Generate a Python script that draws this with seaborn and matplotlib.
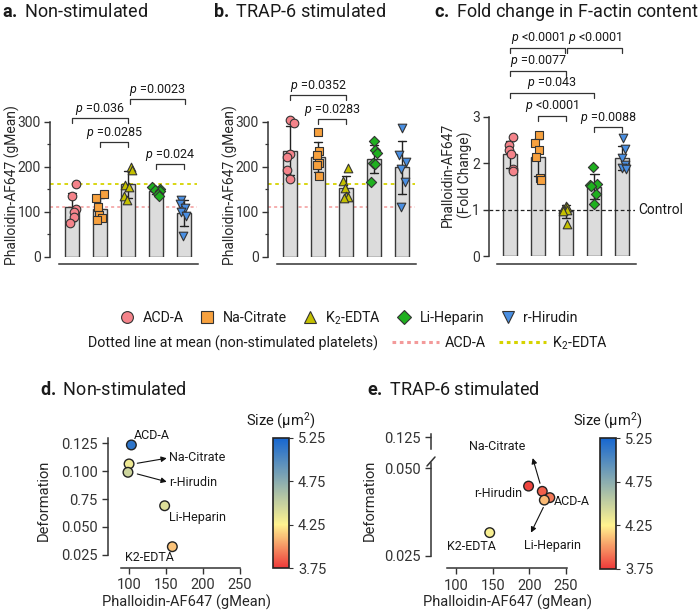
import numpy as np
import pandas as pd
import matplotlib
matplotlib.use("Agg")
import matplotlib.pyplot as plt
import seaborn as sns
from matplotlib.lines import Line2D
from matplotlib.colors import LinearSegmentedColormap, Normalize
from matplotlib.cm import ScalarMappable

# ---------------- data ----------------
categories = ["ACD-A", "Na-Citrate", "K2-EDTA", "Li-Heparin", "r-Hirudin"]
legend_labels = ["ACD-A", "Na-Citrate", "K$_2$-EDTA", "Li-Heparin", "r-Hirudin"]
colors = ["#F4838A", "#F7A13E", "#C4C000", "#1FB01F", "#4A8FE2"]
markers = ["o", "s", "^", "D", "v"]

# panel a: non-stimulated (gMean), order = categories
nonstim_values = [
    [161, 135, 105, 100, 88, 75],
    [140, 130, 110, 92, 85, 82],
    [200, 192, 160, 155, 135, 125],
    [155, 150, 148, 145, 140, 135],
    [125, 117, 108, 100, 90, 45],
]
# panel b: TRAP-6 stimulated (gMean)
trap_values = [
    [303, 297, 229, 221, 192, 173],
    [278, 235, 226, 209, 203, 180],
    [197, 168, 152, 136, 132, 130],
    [257, 238, 230, 208, 206, 166],
    [285, 225, 210, 195, 165, 110],
]
# panel c: fold change
fold_values = [
    [2.56, 2.38, 2.29, 2.20, 1.88, 1.82],
    [2.61, 2.43, 2.29, 2.13, 1.68, 1.64],
    [1.07, 1.05, 1.02, 1.00, 0.97, 0.68],
    [1.92, 1.55, 1.52, 1.50, 1.33, 1.12],
    [2.55, 2.30, 2.10, 1.95, 1.90, 1.88],
]

# p-value brackets: (start index, end index, level, label)
a_brackets = [(0, 2, 308, "=0.036"), (1, 2, 255, "=0.0285"),
              (2.07, 4.03, 350, "=0.0023"), (3, 4, 206, "=0.024")]
b_brackets = [(0, 2, 360, "=0.0352"), (1, 2, 306, "=0.0283")]
c_brackets = [(0, 1.97, 4.49, "<0.0001"), (2.03, 4, 4.49, "<0.0001"),
              (0, 2, 3.99, "=0.0077"), (0, 3, 3.52, "=0.043"),
              (1, 2, 3.02, "<0.0001"), (3, 4, 2.78, "=0.0088")]

# panels d / e: phalloidin gMean, deformation, size (um^2)
d_phalloidin = [103.6, 100.5, 159.0, 148.6, 99.0]
d_deformation = [0.1235, 0.1065, 0.0323, 0.0690, 0.0990]
d_size = [5.15, 4.32, 4.12, 4.40, 4.47]
e_phalloidin = [228.0, 217.7, 146.0, 220.5, 199.0]
e_deformation = [0.0416, 0.0434, 0.0316, 0.0409, 0.0449]
e_size = [3.92, 3.85, 4.28, 4.10, 3.78]

d_yticks = [0.025, 0.050, 0.075, 0.100, 0.125]
d_yticklabels = ["0.025", "0.050", "0.75", "0.100", "0.125"]
xticks_de = [100, 150, 200, 250]
cbar_ticks = [3.75, 4.25, 4.75, 5.25]

# ---------------- style ----------------
sns.set_style("ticks")
plt.rcParams["font.family"] = ["Roboto", "DejaVu Sans"]
plt.rcParams["mathtext.fontset"] = "custom"
plt.rcParams["mathtext.rm"] = "Roboto"
plt.rcParams["mathtext.it"] = "Roboto:italic"
plt.rcParams["mathtext.bf"] = "Roboto:bold"
plt.rcParams["axes.edgecolor"] = "#333333"
plt.rcParams["xtick.color"] = "#333333"
plt.rcParams["ytick.color"] = "#333333"
plt.rcParams["text.color"] = "#1a1a1a"

W, H = 700, 612
fig = plt.figure(figsize=(W / 100, H / 100), dpi=100)


def rect(l, t, r, b):
    return [l / W, 1 - b / H, (r - l) / W, (b - t) / H]


np.random.seed(4)


def bar_panel(ax, values, ylim_top, xlim, drop, bottom_offset):
    counts = [len(v) for v in values]
    df = pd.DataFrame({"cat": np.repeat(categories, counts),
                       "val": np.concatenate(values)})
    sns.barplot(data=df, x="cat", y="val", order=categories, errorbar="sd",
                color="#DCDCDC", edgecolor="#3a3a3a", linewidth=1.0, width=0.5,
                capsize=0.3, err_kws={"color": "#222222", "linewidth": 1.0},
                ax=ax, saturation=1)
    for i, c in enumerate(categories):
        sub = df[df["cat"] == c]
        sns.stripplot(data=sub, x="cat", y="val", order=categories,
                      marker=markers[i], color=colors[i],
                      size=5.2 if markers[i] == "D" else 6.2,
                      linewidth=0.8, edgecolor="#333333", jitter=0.15,
                      ax=ax, zorder=4)
    ax.set_xlim(*xlim)
    ax.set_ylim(0, ylim_top)
    ax.set_xlabel("")
    ax.set_xticks([])
    sns.despine(ax=ax)
    ax.spines["bottom"].set_position(("outward", bottom_offset))
    ax.spines["bottom"].set_bounds(-0.47, 4.5)
    ax.spines["left"].set_linewidth(1.1)
    ax.spines["bottom"].set_linewidth(1.1)
    ax.tick_params(axis="y", labelsize=10, length=4, width=1.0, pad=2.5)
    return df


def brackets(ax, items, drop, gap):
    for x1, x2, y, lab in items:
        ax.plot([x1, x1, x2, x2], [y - drop, y, y, y - drop], color="#333333",
                lw=0.9, clip_on=False, zorder=5)
        ax.text((x1 + x2) / 2, y + gap, r"$\it{p}$ " + lab, ha="center",
                va="bottom", fontsize=9, clip_on=False)


# ---- panel a ----
ax_a = fig.add_axes(rect(50, 80, 197.2, 256.7))
bar_panel(ax_a, nonstim_values, 392.7, (-0.786, 4.47), 11, 5.5)
ax_a.set_ylim(0, 392.7)
ax_a.spines["left"].set_bounds(0, 300)
ax_a.set_yticks([0, 100, 200, 300])
ax_a.set_yticks([50, 150, 250], minor=True)
ax_a.tick_params(axis="y", which="minor", length=2.5, width=0.9)
mean_acda = np.mean(nonstim_values[0])
mean_k2 = np.mean(nonstim_values[2])
brackets(ax_a, a_brackets, 11, 2)
ax_a.set_ylabel("Phalloidin-AF647 (gMean)", fontsize=10)
ax_a.yaxis.set_label_coords(-0.205, 0.406)

# ---- panel b ----
ax_b = fig.add_axes(rect(268, 80, 415.2, 256.7))
bar_panel(ax_b, trap_values, 392.7, (-0.786, 4.47), 11, 5.5)
ax_b.set_ylim(0, 392.7)
ax_b.spines["left"].set_bounds(0, 300)
ax_b.set_yticks([0, 100, 200, 300])
ax_b.set_yticks([50, 150, 250], minor=True)
ax_b.tick_params(axis="y", which="minor", length=2.5, width=0.9)
brackets(ax_b, b_brackets, 11, 2)
ax_b.set_ylabel("Phalloidin-AF647 (gMean)", fontsize=10)
ax_b.yaxis.set_label_coords(-0.205, 0.406)

for ax in (ax_a, ax_b):
    ax.axhline(mean_acda, color="#F39A9A", lw=1.1, ls=(0, (2, 2)), zorder=0.5)
    ax.axhline(mean_k2, color="#D6D300", lw=1.3, ls=(0, (2, 2)), zorder=0.5)

# ---- panel c ----
ax_c = fig.add_axes(rect(489, 30, 635.3, 256))
bar_panel(ax_c, fold_values, 4.867, (-0.75, 4.46), 0.11, 6)
ax_c.set_ylim(0, 4.867)
ax_c.spines["left"].set_bounds(0, 3)
ax_c.set_yticks([0, 1, 2, 3])
ax_c.axhline(1, color="#222222", lw=0.9, ls=(0, (3, 2)), zorder=1.5)
ax_c.text(4.55, 1, "Control", fontsize=10, ha="left", va="center", clip_on=False)
brackets(ax_c, c_brackets, 0.11, 0.03)
ax_c.set_ylabel("Phalloidin-AF647\n(Fold Change)", fontsize=10, multialignment="center")
ax_c.yaxis.set_label_coords(-0.11, 0.358)

# ---- titles ----
fig.text(2 / W, 1 - 12 / H, r"$\bf{a.}$ Non-stimulated", fontsize=13, va="center")
fig.text(213 / W, 1 - 12 / H, r"$\bf{b.}$ TRAP-6 stimulated", fontsize=13, va="center")
fig.text(434 / W, 1 - 12 / H, r"$\bf{c.}$ Fold change in F-actin content", fontsize=13, va="center")
fig.text(40 / W, 1 - 390 / H, r"$\bf{d.}$ Non-stimulated", fontsize=13, va="center")
fig.text(367 / W, 1 - 390 / H, r"$\bf{e.}$ TRAP-6 stimulated", fontsize=13, va="center")

# ---- legends ----
handles = [Line2D([], [], ls="", marker=m, markerfacecolor=c, markeredgecolor="#333333",
                  markeredgewidth=0.8, markersize=(7.5 if m == "D" else 8.5))
           for m, c in zip(markers, colors)]
fig.legend(handles, legend_labels, ncol=5, loc="center",
           bbox_to_anchor=(349 / W, 1 - 318 / H), frameon=False, fontsize=10.3,
           handlelength=1.0, handletextpad=0.6, columnspacing=1.1, borderpad=0)
fig.text(88 / W, 1 - 343 / H, "Dotted line at mean (non-stimulated platelets)",
         fontsize=10.3, va="center", ha="left")
dot_handles = [Line2D([], [], color="#F39A9A", lw=2.2, ls=(0, (1.2, 1.2))),
               Line2D([], [], color="#D6D300", lw=2.2, ls=(0, (1.2, 1.2)))]
fig.legend(dot_handles, ["ACD-A", "K$_2$-EDTA"], ncol=2, loc="center left",
           bbox_to_anchor=(392 / W, 1 - 343 / H), frameon=False, fontsize=10.3,
           handlelength=3.3, handletextpad=0.4, columnspacing=0.9, borderpad=0,
           borderaxespad=0)

# ---- colormap ----
cmap = LinearSegmentedColormap.from_list(
    "size", [(0.0, "#EE3A3A"), (1 / 3, "#FFF38F"), (1.0, "#1767D0")])
norm = Normalize(3.75, 5.25)


def colorbar(l, t, r, b):
    cax = fig.add_axes(rect(l, t, r, b))
    cb = fig.colorbar(ScalarMappable(norm=norm, cmap=cmap), cax=cax, ticks=cbar_ticks)
    cb.outline.set_linewidth(1.2)
    cb.outline.set_edgecolor("#222222")
    cax.tick_params(labelsize=10.5, length=3, width=0.8)
    cax.set_yticklabels([f"{t:.2f}" for t in cbar_ticks])
    cax.set_title("Size (µm$^2$)", fontsize=10.5, pad=9)
    return cax


def scatter(ax, x, y, s):
    df = pd.DataFrame({"x": x, "y": y, "s": s})
    sns.scatterplot(data=df, x="x", y="y", hue="s", palette=cmap, hue_norm=norm,
                    s=48, edgecolor="#222222", linewidth=1.0, legend=False,
                    ax=ax, zorder=3, clip_on=False)


arrow = dict(arrowstyle="-|>", color="#111111", lw=0.8, mutation_scale=8,
             shrinkA=0, shrinkB=0)

# ---- panel d ----
ax_d = fig.add_axes(rect(108, 425, 250, 568))
scatter(ax_d, d_phalloidin, d_deformation, d_size)
ax_d.set_xlim(72, 264)
ax_d.set_ylim(0.0132, 0.1414)
sns.despine(ax=ax_d)
ax_d.spines["left"].set_bounds(0.025, 0.130)
ax_d.spines["bottom"].set_position(("outward", 0))
ax_d.spines["bottom"].set_bounds(89, 250)
ax_d.set_xticks(xticks_de)
ax_d.set_yticks(d_yticks)
ax_d.set_yticklabels(d_yticklabels)
ax_d.tick_params(labelsize=10.5, length=4, width=1.0)
for sp in ("left", "bottom"):
    ax_d.spines[sp].set_linewidth(1.1)
ax_d.set_xlabel("Phalloidin-AF647 (gMean)", fontsize=10.5)
ax_d.set_ylabel("Deformation", fontsize=10.5)
ax_d.yaxis.set_label_coords(-0.40, 0.476)
ax_d.xaxis.set_label_coords(0.55, -0.185)
ax_d.text(107, 0.1323, "ACD-A", fontsize=9, ha="left", va="center")
ax_d.text(154.5, 0.1125, "Na-Citrate", fontsize=9, ha="left", va="center")
ax_d.text(154.5, 0.0898, "r-Hirudin", fontsize=9, ha="left", va="center")
ax_d.text(154.5, 0.0586, "Li-Heparin", fontsize=9, ha="left", va="center")
ax_d.text(127.4, 0.0223, "K2-EDTA", fontsize=9, ha="center", va="center")
ax_d.annotate("", xy=(151.4, 0.1116), xytext=(111.6, 0.1071), arrowprops=arrow)
ax_d.annotate("", xy=(151.4, 0.0905), xytext=(111.6, 0.0975), arrowprops=arrow)
colorbar(273, 438, 289, 568)

# ---- panel e (broken y axis) ----
ax_e = fig.add_axes(rect(431, 463, 590, 568.3))
scatter(ax_e, e_phalloidin, e_deformation, e_size)
ax_e.set_xlim(65.9, 282.8)
ax_e.set_ylim(0.0214, 0.0515)
sns.despine(ax=ax_e)
ax_e.spines["left"].set_bounds(0.025, 0.0515)
ax_e.spines["bottom"].set_bounds(88, 251)
ax_e.set_xticks(xticks_de)
ax_e.set_yticks([0.025, 0.050])
ax_e.set_yticklabels(["0.025", "0.050"])
ax_e.tick_params(labelsize=10.5, length=4, width=1.0)
for sp in ("left", "bottom"):
    ax_e.spines[sp].set_linewidth(1.1)
ax_e.set_xlabel("Phalloidin-AF647 (gMean)", fontsize=10.5)
ax_e.set_ylabel("Deformation", fontsize=10.5)
ax_e.yaxis.set_label_coords(-0.34, 0.649)
ax_e.xaxis.set_label_coords(0.478, -0.25)
ax_e.text(156.4, 0.0562, "Na-Citrate", fontsize=9, ha="center", va="center")
ax_e.text(191, 0.0428, "r-Hirudin", fontsize=9, ha="right", va="center")
ax_e.text(234, 0.0404, "ACD-A", fontsize=9, ha="left", va="center")
ax_e.text(232, 0.0278, "Li-Heparin", fontsize=9, ha="center", va="center")
ax_e.text(121.4, 0.0276, "K2-EDTA", fontsize=9, ha="center", va="center")
ax_e.annotate("", xy=(204.6, 0.0529), xytext=(214.6, 0.0457), arrowprops=arrow,
              annotation_clip=False)
ax_e.annotate("", xy=(202.3, 0.0316), xytext=(219.1, 0.0388), arrowprops=arrow,
              annotation_clip=False)

ax_et = fig.add_axes(rect(431, 432, 590, 449))
ax_et.set_xlim(65.9, 282.8)
ax_et.set_ylim(0.1215, 0.1265)
for sp in ("top", "right", "bottom"):
    ax_et.spines[sp].set_visible(False)
ax_et.spines["left"].set_linewidth(1.1)
ax_et.spines["left"].set_bounds(0.1215, 0.1258)
ax_et.set_xticks([])
ax_et.set_yticks([0.125])
ax_et.set_yticklabels(["0.125"])
ax_et.tick_params(labelsize=10.5, length=4, width=1.0)
ax_et.patch.set_alpha(0)
fig.add_artist(Line2D([427 / W, 435 / W], [1 - 466 / H, 1 - 457 / H],
                      color="#333333", lw=1.1, transform=fig.transFigure))
colorbar(600, 438, 616, 569)

fig.savefig("out.png", dpi=100)
